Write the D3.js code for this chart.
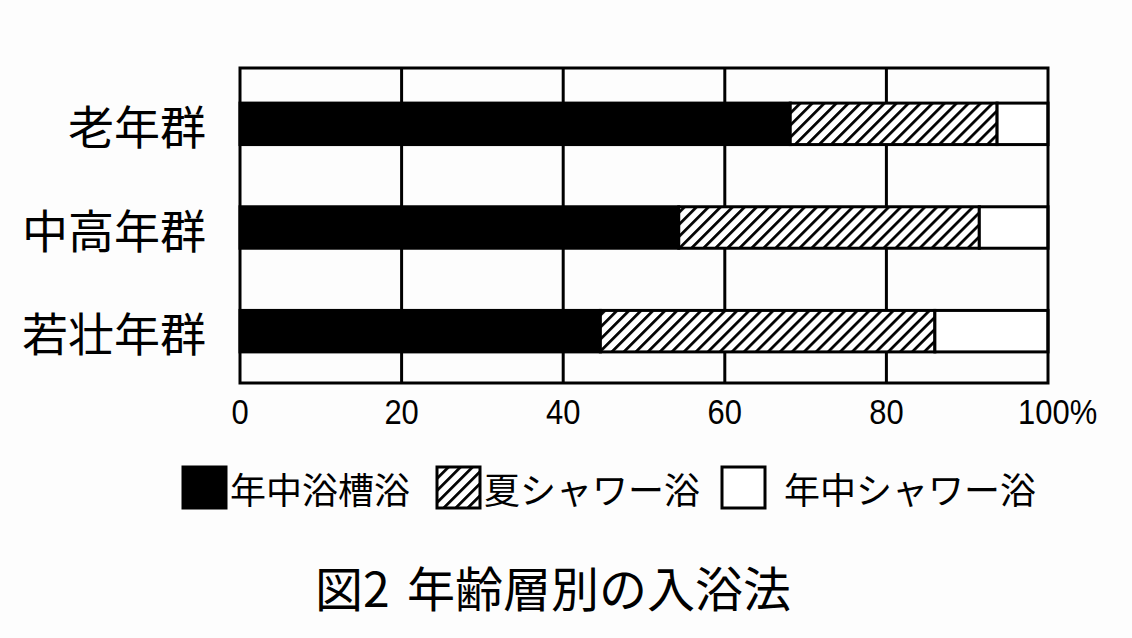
<!DOCTYPE html>
<html><head><meta charset="utf-8">
<script src="https://cdn.jsdelivr.net/npm/d3@7"></script>
<style>
html,body{margin:0;padding:0;background:#fdfdfd;}
svg{display:block;}
</style></head>
<body>
<script>
const categories = ["老年群", "中高年群", "若壮年群"];
const seriesNames = ["年中浴槽浴", "夏シャワー浴", "年中シャワー浴"];
const bathTub = [68.1, 54.3, 44.6];
const summerShower = [25.6, 37.2, 41.4];
const yearShower = [6.3, 8.5, 14.0];
const tickValues = [0, 20, 40, 60, 80, 100];
const tickLabels = ["0", "20", "40", "60", "80", "100%"];
const titleHead = "図2";
const titleBody = "年齢層別の入浴法";

(function () {
const W = 1132, H = 638;
const svg = d3.select("body").append("svg").attr("width", W).attr("height", H);
svg.append("rect").attr("width", W).attr("height", H).attr("fill", "#fdfdfd");

const defs = svg.append("defs");
const pw = 8.5;
const pat = defs.append("pattern").attr("id", "hatch").attr("patternUnits", "userSpaceOnUse")
  .attr("width", pw).attr("height", pw).attr("patternTransform", "rotate(45)");
pat.append("rect").attr("width", pw).attr("height", pw).attr("fill", "#fff");
pat.append("line").attr("x1", 0).attr("y1", 0).attr("x2", 0).attr("y2", pw)
  .attr("stroke", "#000").attr("stroke-width", 5.5);

const pL = 240, pR = 1048, pT = 68, pB = 383;
const x = d3.scaleLinear().domain([0, 100]).range([pL, pR]);
const y = d3.scaleBand().domain(categories).range([pT + 4, pB]).paddingInner(0.6).paddingOuter(0.3);

// gridlines
svg.append("g").selectAll("line").data([20, 40, 60, 80]).join("line")
  .attr("x1", d => x(d)).attr("x2", d => x(d)).attr("y1", pT).attr("y2", pB)
  .attr("stroke", "#000").attr("stroke-width", 3);

const fills = ["#000", "url(#hatch)", "#fff"];
const stackData = categories.map((c, i) => ({cat: c, v: [bathTub[i], summerShower[i], yearShower[i]]}));
const stack = d3.stack().keys([0, 1, 2]).value((d, k) => d.v[k])(stackData);

const barG = svg.append("g");
stack.forEach((layer, k) => {
  barG.selectAll(null).data(layer).join("rect")
    .attr("x", d => x(d[0]))
    .attr("width", d => Math.min(x(d[1]), pR) - x(d[0]))
    .attr("y", d => y(d.data.cat))
    .attr("height", y.bandwidth())
    .attr("fill", fills[k])
    .attr("stroke", "#000").attr("stroke-width", 3);
});

// frame
svg.append("rect").attr("x", pL).attr("y", pT).attr("width", pR - pL).attr("height", pB - pT)
  .attr("fill", "none").attr("stroke", "#000").attr("stroke-width", 3);

// category labels
svg.append("g").selectAll("text").data(categories).join("text")
  .attr("x", 206).attr("y", d => y(d) + y.bandwidth() / 2)
  .attr("text-anchor", "end").attr("dominant-baseline", "central")
  .attr("font-family", "'Noto Sans CJK JP', sans-serif").attr("font-size", 46)
  .attr("fill", "#000").text(d => d);

// tick labels (condensed)
svg.append("g").selectAll("text").data(tickValues).join("text")
  .attr("transform", (d, i) => `translate(${i === tickValues.length - 1 ? x(d) - 30 : x(d)},424) scale(0.86,1)`)
  .attr("text-anchor", (d, i) => i === tickValues.length - 1 ? "start" : "middle")
  .attr("font-family", "'Liberation Sans', Arial, sans-serif").attr("font-size", 36)
  .attr("fill", "#000").text((d, i) => tickLabels[i]);

// legend
const legendItems = [
  {sx: 183, tx: 230, fill: "#000"},
  {sx: 437, tx: 484, fill: "url(#hatch)"},
  {sx: 722, tx: 784, fill: "#fff"}
];
const lg = svg.append("g");
seriesNames.forEach((name, i) => {
  const it = legendItems[i];
  lg.append("rect").attr("x", it.sx).attr("y", 467).attr("width", 43).attr("height", 41)
    .attr("fill", it.fill).attr("stroke", "#000").attr("stroke-width", 3);
  lg.append("text").attr("x", it.tx).attr("y", 488).attr("dominant-baseline", "central")
    .attr("font-family", "'Noto Sans CJK JP', sans-serif").attr("font-size", 36)
    .attr("fill", "#000").text(name);
});

// title
const tt = svg.append("text").attr("y", 586).attr("dominant-baseline", "central")
  .attr("font-family", "'Noto Sans CJK JP', sans-serif").attr("font-size", 48)
  .attr("fill", "#000");
tt.append("tspan").attr("x", 315).text(titleHead);
tt.append("tspan").attr("x", 407).text(titleBody);
})();
</script>
</body></html>
